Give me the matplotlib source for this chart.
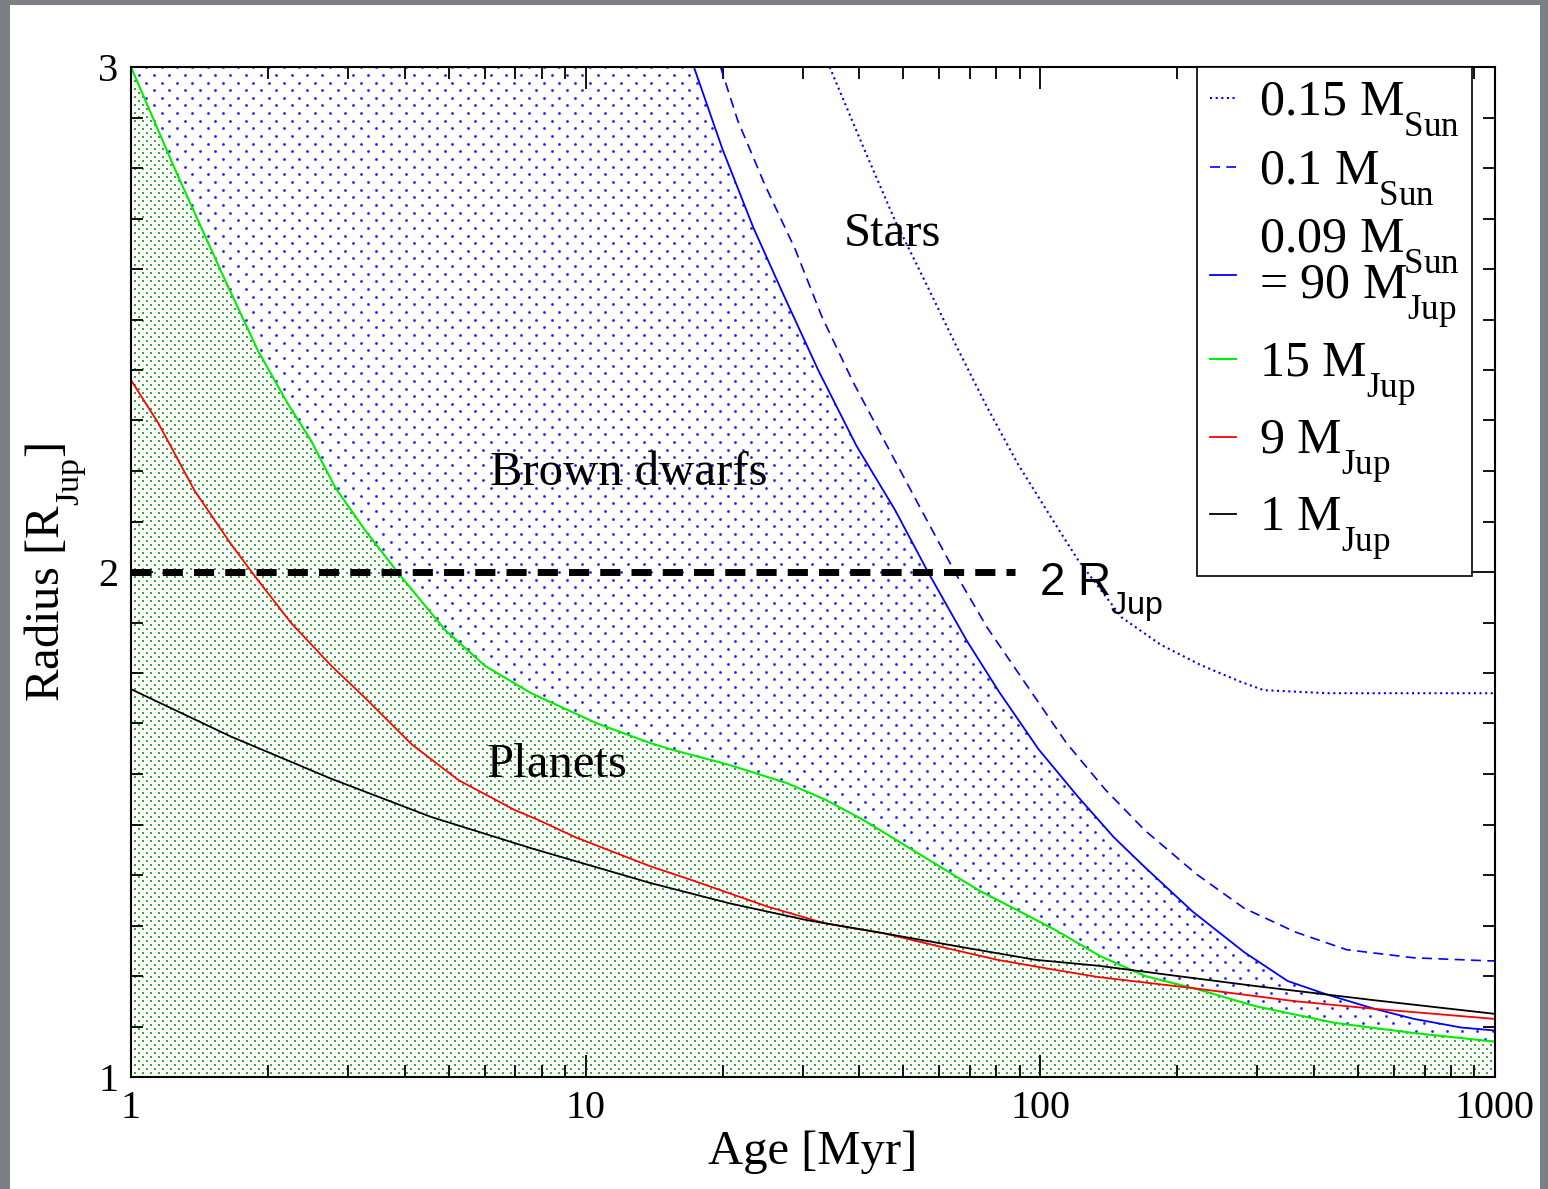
import numpy as np
import matplotlib
matplotlib.use("Agg")
import matplotlib.pyplot as plt
from matplotlib import _mathtext
from matplotlib.patches import Polygon, Rectangle
from matplotlib.ticker import FixedLocator, MultipleLocator, LogLocator, NullFormatter, FuncFormatter

plt.rcParams["font.family"] = ["Liberation Serif", "DejaVu Serif"]
plt.rcParams["mathtext.fontset"] = "custom"
plt.rcParams["mathtext.rm"] = "Liberation Serif"
plt.rcParams["mathtext.it"] = "Liberation Serif:italic"
plt.rcParams["mathtext.sf"] = "Liberation Sans"
# hang subscripts lower, Grace/xmgrace style
_mathtext.FontConstantsBase.sub1 = 0.95

# ---------------- evolutionary tracks: age [Myr] vs radius [R_Jup] ----------------
# 0.15 M_Sun
AGE_015 = [34.4, 41.0, 47.9, 55.8, 65.3, 76.2, 89.1, 108, 121, 151, 184, 225, 275, 310, 428, 1000]
R_015 = [3.0, 2.837, 2.696, 2.575, 2.448, 2.328, 2.215, 2.094, 2.024, 1.910, 1.856, 1.816, 1.783, 1.766, 1.760, 1.760]

# 0.1 M_Sun
AGE_010 = [19.8, 21.6, 24.8, 28.9, 33.1, 38.7, 46.0, 55.8, 65.3, 76.4, 93.3, 114, 139, 170, 221, 281,
           364, 472, 664, 970, 1000]
R_010 = [3.0, 2.894, 2.766, 2.639, 2.505, 2.377, 2.250, 2.109, 1.995, 1.890, 1.776, 1.662, 1.569, 1.488,
         1.401, 1.334, 1.287, 1.252, 1.236, 1.230, 1.230]

# 0.09 M_Sun = 90 M_Jup
AGE_009 = [17.3, 20.0, 23.4, 27.3, 32.5, 39.4, 47.9, 57.0, 69.0, 81.1, 99.1, 121, 145, 170, 216, 281,
           350, 428, 543, 664, 843, 1000]
R_009 = [3.0, 2.837, 2.681, 2.547, 2.399, 2.250, 2.123, 1.995, 1.863, 1.763, 1.649, 1.555, 1.475, 1.415,
         1.328, 1.247, 1.190, 1.163, 1.135, 1.115, 1.098, 1.092]

# 15 M_Jup
AGE_15J = [1.0, 1.26, 1.61, 1.905, 2.22, 2.49, 2.81, 3.27, 3.87, 4.91, 6.01, 7.59, 10.6, 13.9, 15.5,
           20.7, 27.7, 33.7, 40.8, 49.5, 60.3, 73.1, 88.7, 108, 135, 170, 221, 298, 445, 664, 1000]
R_15J = [3.0, 2.79, 2.578, 2.437, 2.331, 2.260, 2.168, 2.083, 1.998, 1.885, 1.814, 1.760, 1.700, 1.661,
         1.648, 1.618, 1.582, 1.549, 1.509, 1.463, 1.416, 1.370, 1.331, 1.291, 1.240, 1.200, 1.174,
         1.140, 1.107, 1.087, 1.070]

# 9 M_Jup
AGE_9J = [1.0, 1.148, 1.38, 1.66, 1.875, 2.25, 2.76, 3.27, 4.14, 5.25, 6.97, 7.87, 9.48, 13.9, 17.1,
          25.2, 33.7, 45.0, 60.3, 80.5, 108, 134, 221, 364, 543, 1000]
R_9J = [2.380, 2.295, 2.161, 2.055, 1.991, 1.899, 1.814, 1.751, 1.659, 1.588, 1.529, 1.509, 1.475, 1.417,
        1.390, 1.337, 1.304, 1.285, 1.258, 1.232, 1.212, 1.198, 1.175, 1.150, 1.135, 1.115]

# 1 M_Jup
AGE_1J = [1.0, 1.66, 2.75, 4.57, 7.59, 13.9, 20.7, 30.5, 45.0, 66.4, 97.7, 135, 200, 298, 543, 1000]
R_1J = [1.768, 1.674, 1.591, 1.515, 1.453, 1.384, 1.344, 1.311, 1.285, 1.258, 1.232, 1.220, 1.200,
        1.180, 1.152, 1.125]

# 2 R_Jup reference level
REF_RADIUS = 2.0
REF_AGE = [1.0, 88.0]

X_TICKS = [1, 10, 100, 1000]
Y_TICKS = [1, 2, 3]
AGE_LIM = (1, 1000)
R_LIM = (1, 3)

LEGEND_LABELS = [
    r"0.15 M$_{\rm Sun}$",
    r"0.1 M$_{\rm Sun}$",
    "0.09 M$_{\\rm Sun}$\n= 90 M$_{\\rm Jup}$",
    r"15 M$_{\rm Jup}$",
    r"9 M$_{\rm Jup}$",
    r"1 M$_{\rm Jup}$",
]

BLUE = "#0000ff"
GREEN = "#00ee00"
RED = "#ff0000"

# ---------------- figure ----------------
W_PX, H_PX = 1548, 1189
DPI = 100
fig = plt.figure(figsize=(W_PX / DPI, H_PX / DPI), dpi=DPI, facecolor="#7c7f84")
fig.add_artist(Rectangle((10 / W_PX, 0), 1530 / W_PX, 1184 / H_PX, transform=fig.transFigure,
                         facecolor="white", edgecolor="none", zorder=-10))
ax = fig.add_axes([131 / W_PX, 112 / H_PX, 1364 / W_PX, 1010 / H_PX])
ax.set_xscale("log")
ax.set_xlim(*AGE_LIM)
ax.set_ylim(*R_LIM)


def dot_texture(ax, patch, pitch, color, size, marker="o"):
    """Staggered dot pattern (in screen pixels) clipped to a patch."""
    w, h = ax.bbox.width, ax.bbox.height
    pts = []
    for j, y in enumerate(np.arange(0, h + pitch, pitch)):
        xs = np.arange((j % 2) * pitch, w + pitch, 2 * pitch)
        pts.append(np.column_stack([xs, np.full_like(xs, y)]))
    pts = np.vstack(pts)
    sc = ax.scatter(pts[:, 0] / w, pts[:, 1] / h, s=size, c=color, marker=marker, linewidths=0,
                    transform=ax.transAxes, zorder=1)
    sc.set_clip_path(patch)
    return sc


# planet region: below the 15 M_Jup track
planet_xy = np.column_stack([np.r_[AGE_15J, AGE_LIM[1], AGE_LIM[0]],
                             np.r_[R_15J, R_LIM[0], R_LIM[0]]])
planet_patch = Polygon(planet_xy, closed=True, transform=ax.transData, facecolor="none", edgecolor="none")
ax.add_patch(planet_patch)

# brown dwarf region: between 15 M_Jup and 90 M_Jup tracks
bd_xy = np.column_stack([np.r_[AGE_15J, AGE_009[::-1]], np.r_[R_15J, R_009[::-1]]])
bd_patch = Polygon(bd_xy, closed=True, transform=ax.transData, facecolor="none", edgecolor="none")
ax.add_patch(bd_patch)

dot_texture(ax, planet_patch, 4.0, "#35aa35", 1.9, marker="s")
dot_texture(ax, bd_patch, 7.65, "#1f1fff", 4.0)

# tracks
h015, = ax.plot(AGE_015, R_015, color=BLUE, lw=1.5, linestyle=(0, (1.0, 1.7)), zorder=3)
h010, = ax.plot(AGE_010, R_010, color=BLUE, lw=1.2, linestyle=(0, (6.0, 3.8)), zorder=3)
h009, = ax.plot(AGE_009, R_009, color=BLUE, lw=1.3, zorder=3)
h15, = ax.plot(AGE_15J, R_15J, color=GREEN, lw=1.5, zorder=3)
h9, = ax.plot(AGE_9J, R_9J, color=RED, lw=1.3, zorder=3)
h1, = ax.plot(AGE_1J, R_1J, color="black", lw=1.3, zorder=3)

# 2 R_Jup level
ax.plot(REF_AGE, [REF_RADIUS, REF_RADIUS], color="black", lw=5, dashes=(2.9, 1.6),
        solid_capstyle="butt", dash_capstyle="butt", zorder=4)
ax.text(0.666, 0.477, r"2 R$_{\mathsf{Jup}}$", transform=ax.transAxes, fontsize=33,
        family="Liberation Sans", va="baseline", ha="left", zorder=5)

# region names
ax.text(0.558, 0.823, "Stars", transform=ax.transAxes, fontsize=35, ha="center", va="baseline", zorder=5)
ax.text(0.365, 0.586, "Brown dwarfs", transform=ax.transAxes, fontsize=35, ha="center", va="baseline", zorder=5)
ax.text(0.312, 0.297, "Planets", transform=ax.transAxes, fontsize=35, ha="center", va="baseline", zorder=5)

# axes, ticks
ax.xaxis.set_major_locator(FixedLocator(X_TICKS))
ax.xaxis.set_major_formatter(FuncFormatter(lambda v, p: f"{v:g}"))
ax.xaxis.set_minor_locator(LogLocator(base=10, subs=np.arange(2, 10)))
ax.xaxis.set_minor_formatter(NullFormatter())
ax.yaxis.set_major_locator(FixedLocator(Y_TICKS))
ax.yaxis.set_major_formatter(FuncFormatter(lambda v, p: f"{v:g}"))
ax.yaxis.set_minor_locator(MultipleLocator(0.1))

ax.tick_params(which="both", direction="in", top=True, right=True, width=1.3, colors="black")
ax.tick_params(which="major", length=16, pad=9, labelsize=29)
ax.tick_params(which="minor", length=8.5)
for sp in ax.spines.values():
    sp.set_linewidth(1.5)
    sp.set_zorder(6)

ax.set_xlabel("Age [Myr]", fontsize=35)
ax.xaxis.set_label_coords(0.5, -0.052)
ax.set_ylabel(r"Radius [R$_{\rm Jup}$]", fontsize=35)
ax.yaxis.set_label_coords(-0.031, 0.5)

leg = ax.legend([h015, h010, h009, h15, h9, h1], LEGEND_LABELS, loc="upper right",
                bbox_to_anchor=(0.983, 1.0), borderaxespad=0, fontsize=36, frameon=True,
                fancybox=False, edgecolor="black", framealpha=1, handlelength=0.52,
                handletextpad=0.46, borderpad=0.25, labelspacing=0.2)
leg.get_frame().set_linewidth(1.2)
leg.set_zorder(10)
for t in leg.get_texts():
    t.set_linespacing(0.65)

fig.savefig("out.png", dpi=DPI, facecolor=fig.get_facecolor())
